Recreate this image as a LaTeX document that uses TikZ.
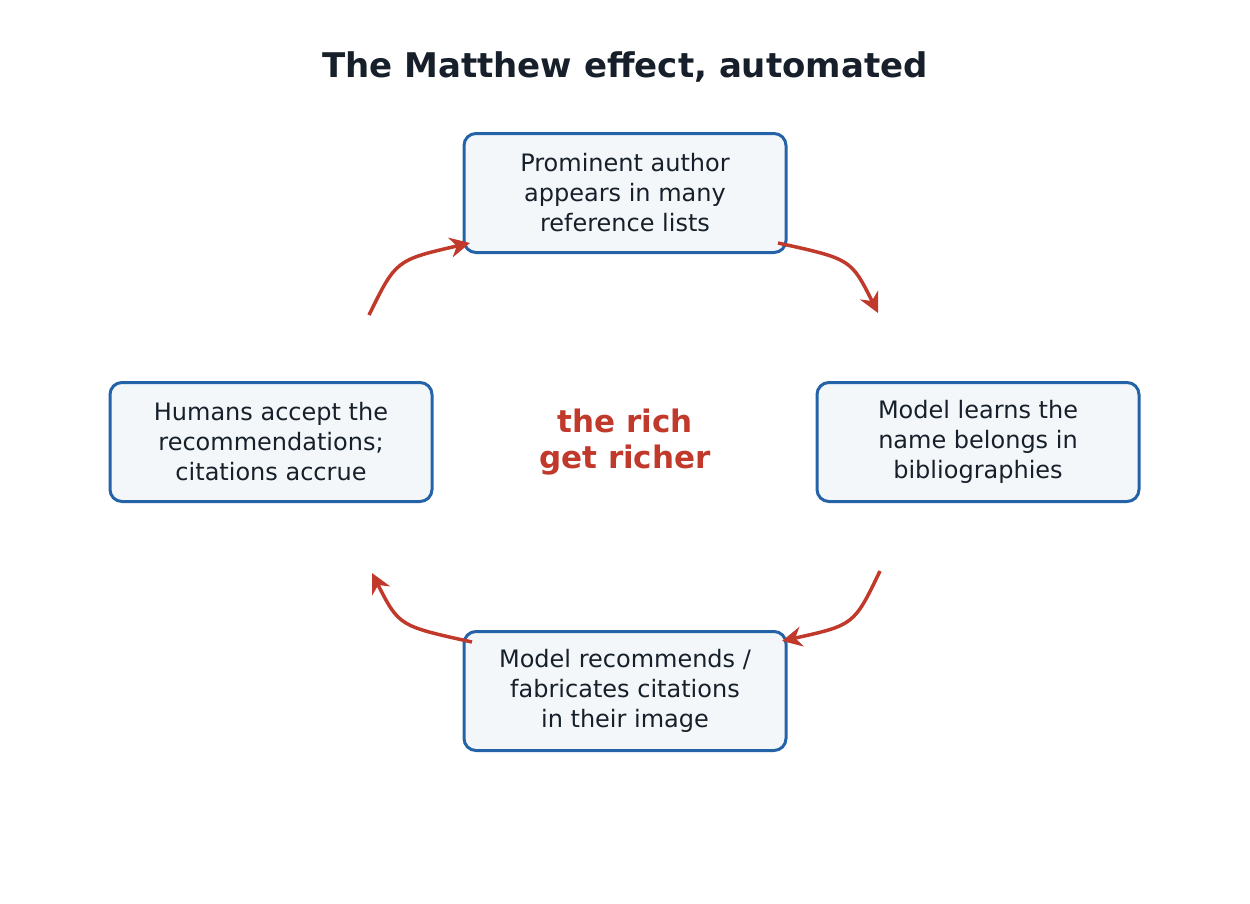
\documentclass[tikz,border=0pt]{standalone}
\usepackage{fontspec}
\setmainfont{DejaVu Sans}
\usetikzlibrary{arrows.meta}
\definecolor{boxblue}{HTML}{2563A8}
\definecolor{boxfill}{HTML}{F3F7FA}
\definecolor{txt}{HTML}{17202A}
\definecolor{arr}{HTML}{C0392B}
\begin{document}
\begin{tikzpicture}[x=1pt,y=-1pt,
  card/.style={draw=boxblue,line width=3pt,fill=boxfill,rounded corners=12pt,minimum width=322pt,minimum height=119pt,align=center,text=txt,font=\fontsize{24}{30}\selectfont,inner sep=0pt},
  loop/.style={draw=arr,line width=3.5pt,-{Stealth[length=20pt,width=20pt]}}]
\useasboundingbox (0,0) rectangle (1250,903);
\node[font=\bfseries\fontsize{34}{40}\selectfont,text=txt] (title) at (625,67) {The Matthew effect, automated};
\node[card] (top) at (625,193) {Prominent author\\appears in many\\reference lists};
\node[card] (right) at (978,442) {Model learns the\\name belongs in\\bibliographies};
\node[card] (bottom) at (625,691) {Model recommends /\\fabricates citations\\in their image};
\node[card] (left) at (271,442) {Humans accept the\\recommendations;\\citations accrue};
\node[font=\bfseries\fontsize{31}{36}\selectfont,text=arr,align=center] (mid) at (625,442) {the rich\\get richer};
\coordinate (a1) at (369,315); \coordinate (a2) at (470,243);
\coordinate (b1) at (778,243); \coordinate (b2) at (878,313);
\coordinate (c1) at (880,571); \coordinate (c2) at (782,641);
\coordinate (d1) at (472,642); \coordinate (d2) at (372,573);
\draw[loop] (a1) .. controls (396,260) .. (a2);
\draw[loop] (b1) .. controls (851,259) .. (b2);
\draw[loop] (c1) .. controls (854,625) .. (c2);
\draw[loop] (d1) .. controls (399,626) .. (d2);
\end{tikzpicture}
\end{document}
